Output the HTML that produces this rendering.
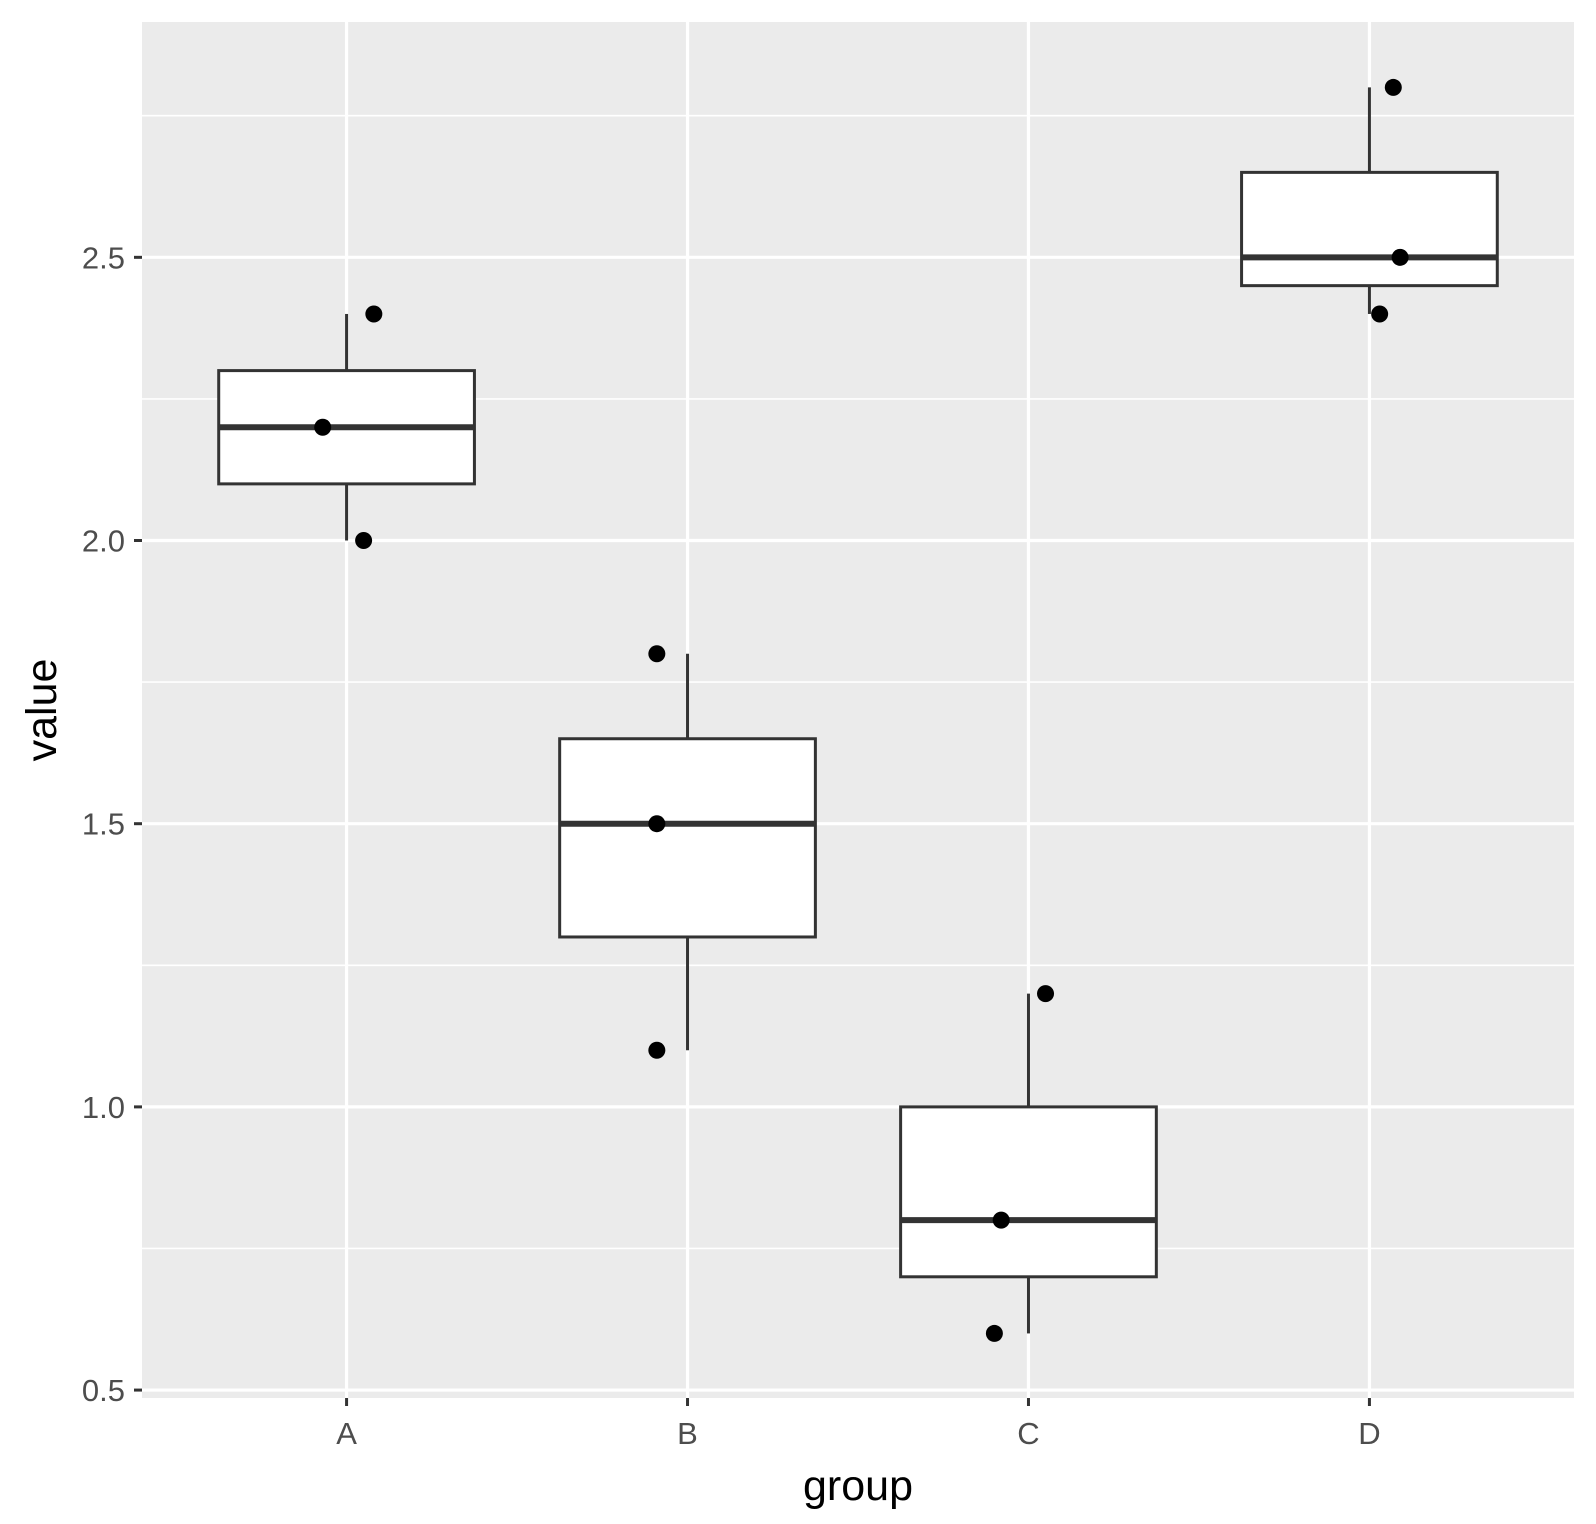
<!DOCTYPE html>
<html><head><meta charset="utf-8"><style>
html,body{margin:0;padding:0;background:#fff}
svg{display:block;font-family:"Liberation Sans",Arial,sans-serif}
</style></head><body>
<svg id="chart" width="1596" height="1524" viewBox="0 0 1596 1524" xmlns="http://www.w3.org/2000/svg"></svg>
<script>
const categories = ["A","B","C","D"];
const q1 = [2.1, 1.3, 0.7, 2.45];
const medians = [2.2, 1.5, 0.8, 2.5];
const q3 = [2.3, 1.65, 1.0, 2.65];
const whiskLow = [2.0, 1.1, 0.6, 2.4];
const whiskHigh = [2.4, 1.8, 1.2, 2.8];
const pointGroup = [0,0,0,1,1,1,2,2,2,3,3,3];
const pointValue = [2.4,2.2,2.0,1.8,1.5,1.1,1.2,0.8,0.6,2.8,2.5,2.4];
const pointJitter = [0.08,-0.07,0.05,-0.09,-0.09,-0.09,0.05,-0.08,-0.1,0.07,0.09,0.03];
const yTicks = [0.5,1.0,1.5,2.0,2.5];
const yTickLabels = ["0.5","1.0","1.5","2.0","2.5"];
const yMinor = [0.75,1.25,1.75,2.25,2.75];

const PL=142, PR=1574, PT=22, PB=1398;
const XMIN=0.4, XMAX=4.6, YMIN=0.486, YMAX=2.9155;
const sx = v => PL + (v - XMIN) / (XMAX - XMIN) * (PR - PL);
const sy = v => PB - (v - YMIN) / (YMAX - YMIN) * (PB - PT);
const svg = document.getElementById('chart');
const NS = "http://www.w3.org/2000/svg";
function mk(tag, attrs, parent){const e=document.createElementNS(NS,tag);for(const k in attrs)e.setAttribute(k,attrs[k]);(parent||svg).appendChild(e);return e;}

const bg = mk('rect',{x:PL,y:PT,width:PR-PL,height:PB-PT,fill:'#ebebeb'});



yMinor.forEach(v=>{const l=mk('line',{x1:PL,x2:PR,y1:sy(v),y2:sy(v),stroke:'#fff','stroke-width':1.6});

});
yTicks.forEach((v,i)=>{const l=mk('line',{x1:PL,x2:PR,y1:sy(v),y2:sy(v),stroke:'#fff','stroke-width':3.2});


const t=mk('line',{x1:PL-8,x2:PL,y1:sy(v),y2:sy(v),stroke:'#333','stroke-width':3});


const tx=mk('text',{x:PL-17,y:sy(v)+11,'text-anchor':'end','font-size':31,fill:'#4d4d4d'});
tx.textContent=yTickLabels[i];

});
categories.forEach((c,i)=>{const x=sx(i+1);
const l=mk('line',{x1:x,x2:x,y1:PT,y2:PB,stroke:'#fff','stroke-width':3.2});


const t=mk('line',{x1:x,x2:x,y1:PB,y2:PB+8,stroke:'#333','stroke-width':3});


const tx=mk('text',{x:x,y:PB+46,'text-anchor':'middle','font-size':31,fill:'#4d4d4d'});
tx.textContent=c;

});

categories.forEach((c,i)=>{const x=sx(i+1), hw=(sx(1.375)-sx(1));
const g=mk('g',{});


mk('line',{x1:x,x2:x,y1:sy(whiskHigh[i]),y2:sy(q3[i]),stroke:'#333','stroke-width':3},g);
mk('line',{x1:x,x2:x,y1:sy(q1[i]),y2:sy(whiskLow[i]),stroke:'#333','stroke-width':3},g);
mk('rect',{x:x-hw,y:sy(q3[i]),width:2*hw,height:sy(q1[i])-sy(q3[i]),fill:'#fff',stroke:'#333','stroke-width':3},g);
mk('line',{x1:x-hw,x2:x+hw,y1:sy(medians[i]),y2:sy(medians[i]),stroke:'#333','stroke-width':6},g);});

pointValue.forEach((v,i)=>{const p=mk('circle',{cx:sx(pointGroup[i]+1+pointJitter[i]),cy:sy(v),r:8.5,fill:'#000'});

});

const xt=mk('text',{x:(PL+PR)/2,y:1500,'text-anchor':'middle','font-size':43,fill:'#000'});
xt.textContent='group';


const yt=mk('text',{x:0,y:0,'text-anchor':'middle','font-size':43,fill:'#000',transform:'translate(56,'+((PT+PB)/2)+') rotate(-90)'});
yt.textContent='value';


</script>
</body></html>
